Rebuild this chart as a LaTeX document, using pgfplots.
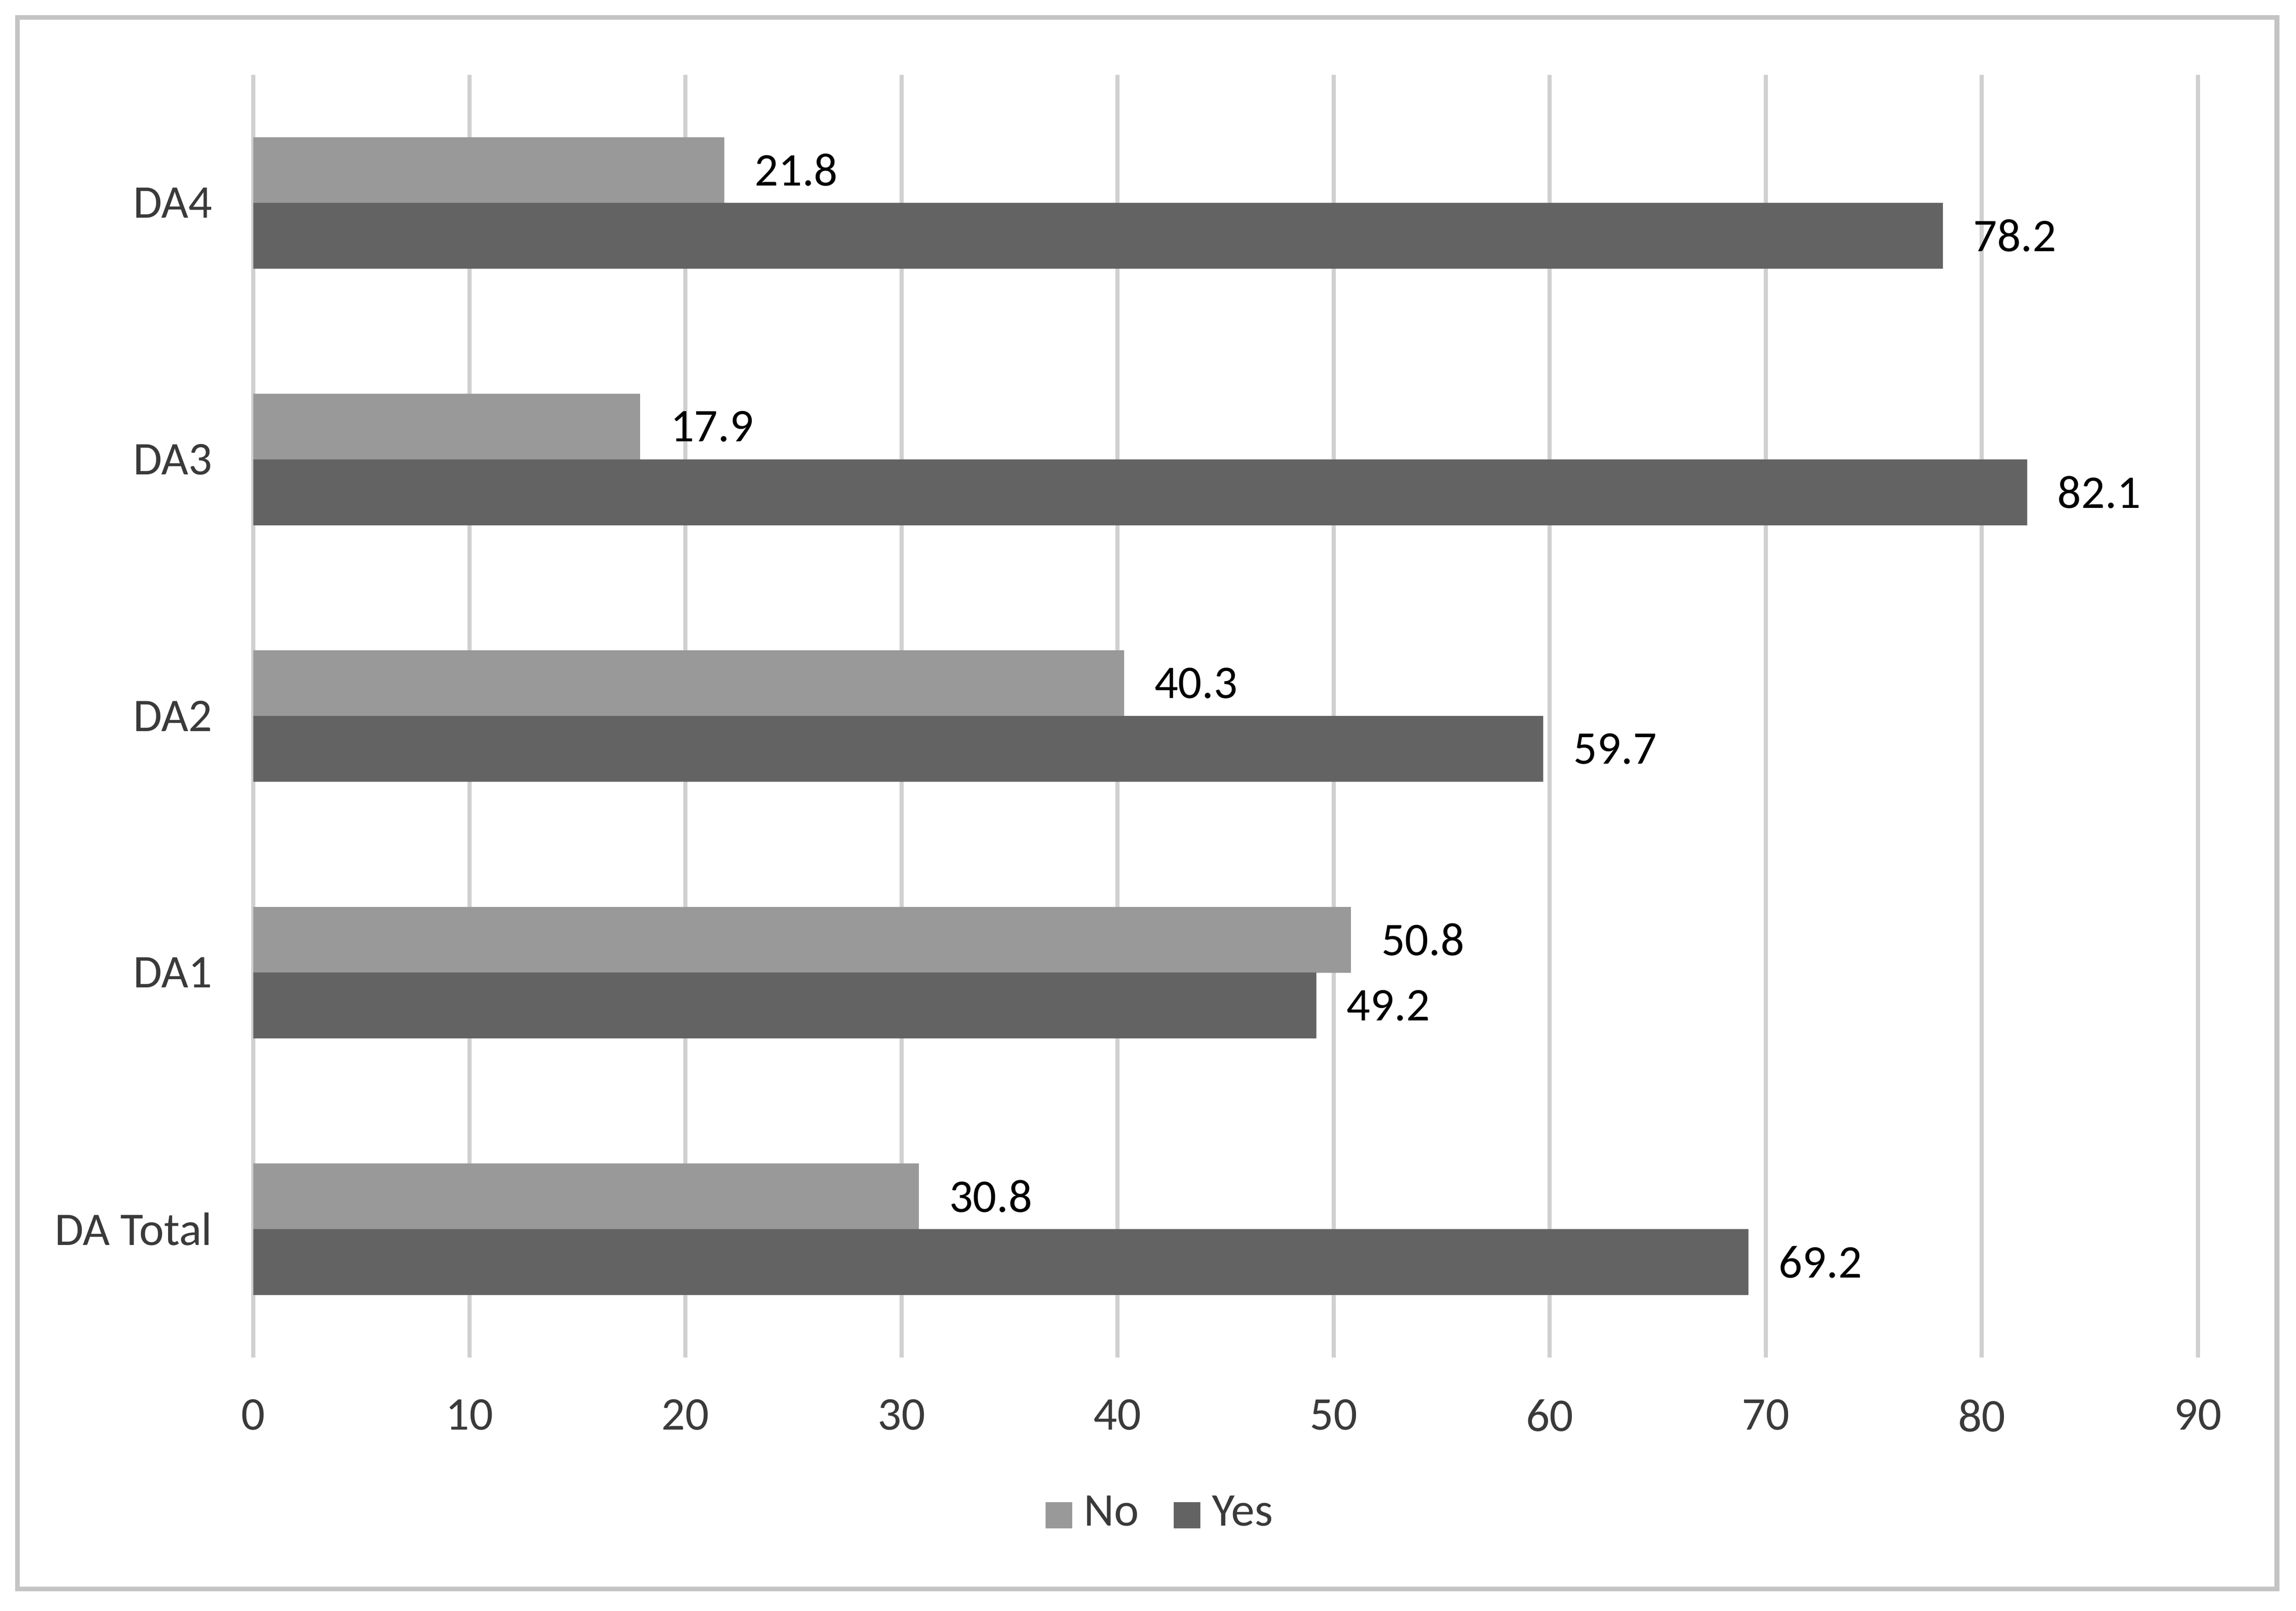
\documentclass[border=0pt]{standalone}
\usepackage{fontspec}
\setmainfont{Carlito}
\usepackage{pgfplots}
\pgfplotsset{compat=1.18}
\usetikzlibrary{calc}
\definecolor{nogray}{HTML}{999999}
\definecolor{yesgray}{HTML}{636363}
\definecolor{gridgray}{HTML}{D0D0D0}
\definecolor{bordergray}{HTML}{C4C4C4}
\definecolor{ticktext}{HTML}{3A3A3A}
\begin{document}
\begin{tikzpicture}
\begin{axis}[
  name=ax, at={(0,0)}, anchor=south west,
  scale only axis, width=332pt, height=219pt,
  xbar, xmin=0, xmax=90, ymin=-0.5, ymax=4.5,
  xtick={0,10,...,90}, ytick={0,1,2,3,4},
  yticklabels={DA Total,DA1,DA2,DA3,DA4},
  xmajorgrids, grid style={color=gridgray, line width=0.7pt},
  axis line style={draw=none}, major tick length=0pt,
  tick style={draw=none},
  /pgf/number format/assume math mode=true,
  font=\fontsize{8}{9.6}\selectfont,
  ticklabel style={font=\fontsize{8}{9.6}\selectfont, text=ticktext},
  xticklabel style={inner sep=0pt, anchor=north, yshift=-7pt},
  yticklabel style={inner sep=0pt, anchor=east, xshift=-6.8pt},
  bar width=11.25pt,
  nodes near coords,
  point meta=x,
  nodes near coords style={anchor=west, inner sep=0pt, xshift=5pt, text=black,
     font=\fontsize{8}{9.6}\selectfont,
     /pgf/number format/fixed, /pgf/number format/precision=1,
     /pgf/number format/fixed zerofill},
  legend columns=2,
  legend style={draw=none, fill=none, at={(0.469,-0.123)}, anchor=center,
     font=\fontsize{8}{9.6}\selectfont, text=ticktext, inner sep=0pt,
     /tikz/every even column/.append style={column sep=4pt}},
  legend cell align=left,
  legend image code/.code={\fill[#1] (0pt,-2.25pt) rectangle (4.5pt,2.25pt);},
]
\addplot[fill=nogray, draw=none, bar shift=5.6pt] coordinates {
  (30.8,0) (50.8,1) (40.3,2) (17.9,3) (21.8,4)};
\addlegendentry{No}
\addplot[fill=yesgray, draw=none, bar shift=-5.6pt] coordinates {
  (69.2,0) (49.2,1) (59.7,2) (82.1,3) (78.2,4)};
\addlegendentry{Yes}
\end{axis}
\pgfresetboundingbox
\path ($(ax.south west)+(-43.25pt,-43.25pt)$) rectangle ($(ax.south west)+(348.75pt,231.75pt)$);
\draw[bordergray, line width=0.8pt] ($(ax.south west)+(-40.25pt,-39.5pt)$) rectangle ($(ax.south west)+(345.5pt,228.75pt)$);
\end{tikzpicture}
\end{document}
